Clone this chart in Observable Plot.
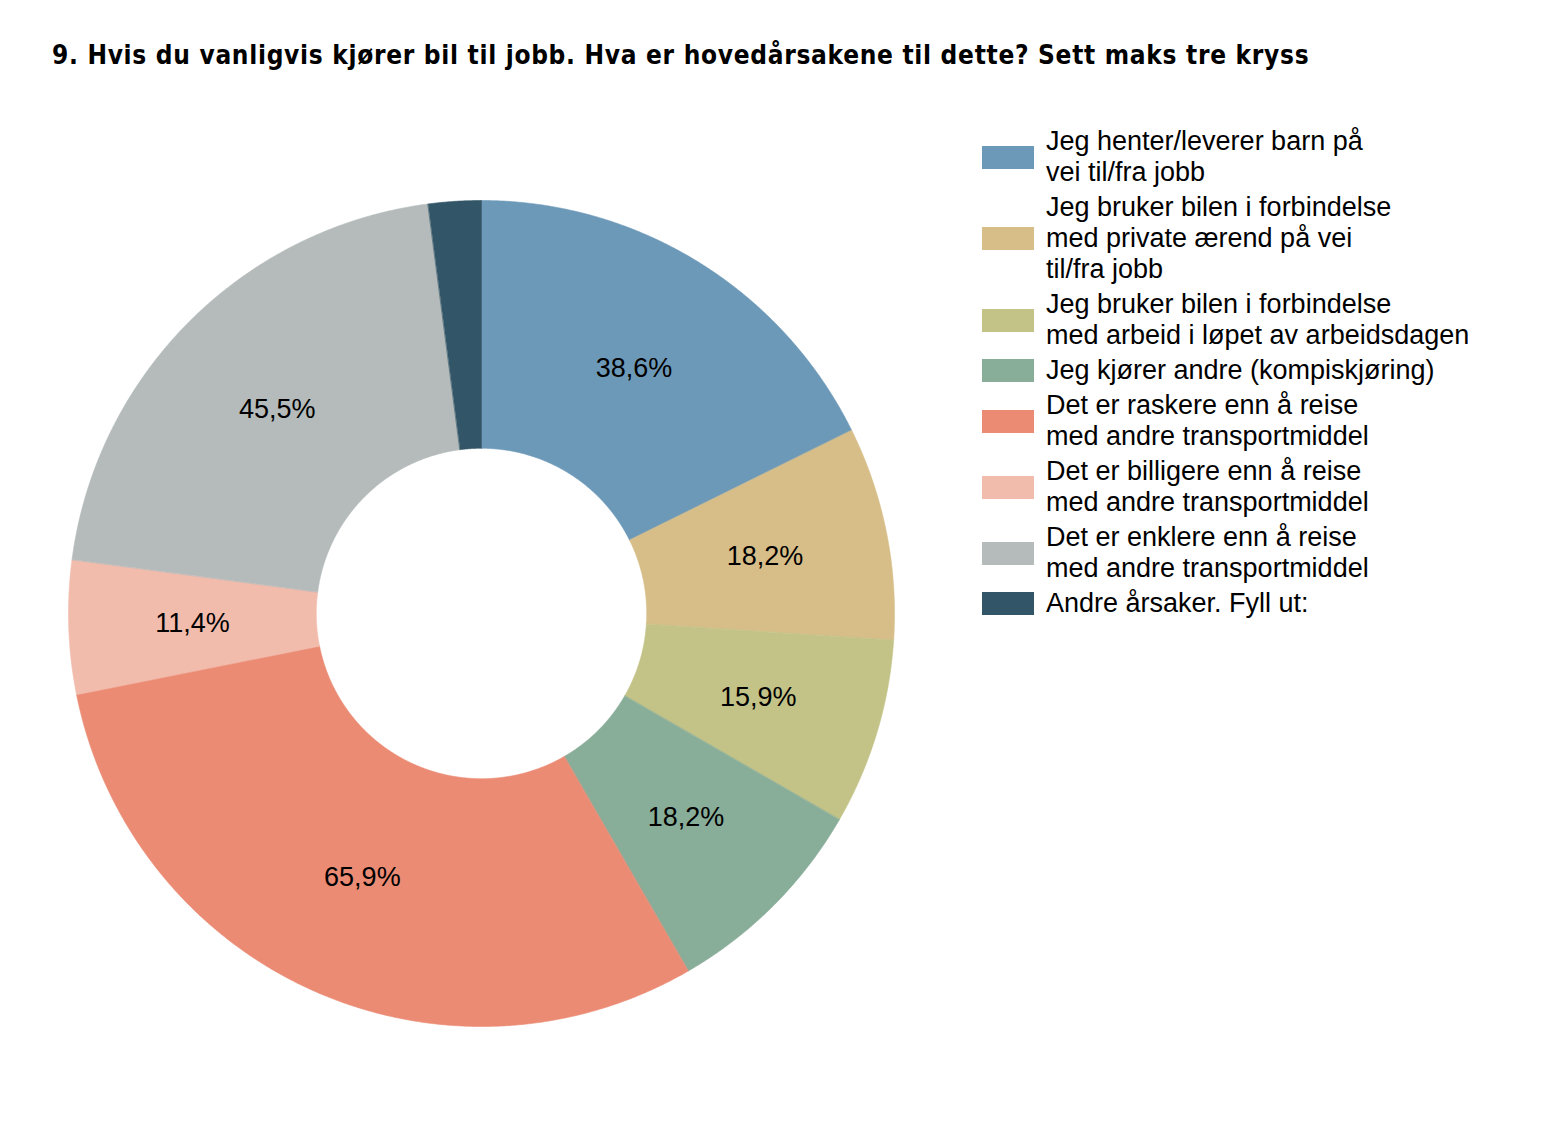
<!DOCTYPE html>
<html>
<head>
<meta charset="utf-8">
<script src="https://cdn.jsdelivr.net/npm/d3@7"></script>
<script src="https://cdn.jsdelivr.net/npm/@observablehq/plot@0.6"></script>
<style>
  html, body { margin: 0; padding: 0; background: #fff; }
  #wrap { position: relative; width: 1562px; height: 1148px; overflow: hidden; }
  #title { position: absolute; left: 52px; top: 40px; font-family: "DejaVu Sans Condensed", "DejaVu Sans", sans-serif; font-weight: bold; font-size: 26px; line-height: 30px; color: #000; white-space: nowrap; letter-spacing: 0.7px; }
  #chart { position: absolute; left: 0; top: 132px; }
  #legend { position: absolute; left: 982px; top: 126px; font-family: Arial, "Liberation Sans", sans-serif; font-size: 27px; line-height: 31px; color: #000; }
  .item { display: flex; align-items: center; margin-bottom: 4px; }
  .sw { width: 52px; height: 23px; flex: none; margin-right: 12px; }
</style>
</head>
<body>
<div id="wrap">
  <div id="title">9. Hvis du vanligvis kjører bil til jobb. Hva er hovedårsakene til dette? Sett maks tre kryss</div>
  <div id="chart"></div>
  <div id="legend"></div>
</div>
<script>
const categories = [
  "Jeg henter/leverer barn på\nvei til/fra jobb",
  "Jeg bruker bilen i forbindelse\nmed private ærend på vei\ntil/fra jobb",
  "Jeg bruker bilen i forbindelse\nmed arbeid i løpet av arbeidsdagen",
  "Jeg kjører andre (kompiskjøring)",
  "Det er raskere enn å reise\nmed andre transportmiddel",
  "Det er billigere enn å reise\nmed andre transportmiddel",
  "Det er enklere enn å reise\nmed andre transportmiddel",
  "Andre årsaker. Fyll ut:"
];
const values = [38.6, 18.2, 15.9, 18.2, 65.9, 11.4, 45.5, 4.5];
const colors = ["#6d99b8", "#d7be88", "#c3c388", "#88ad99", "#eb8b74", "#f2bcad", "#b4bbba", "#325567"];

const data = categories.map((c, i) => ({key: c, value: values[i], color: colors[i]}));
const arcs = d3.pie().sort(null).value(d => d.value)(data);

const inner = 0.4;
const points = [];
arcs.forEach(a => {
  const n = Math.max(8, Math.ceil((a.endAngle - a.startAngle) / 0.005));
  for (let k = 0; k <= n; k++) {
    const t = a.startAngle + (a.endAngle - a.startAngle) * k / n;
    points.push({key: a.data.key, x: Math.sin(t), y: Math.cos(t)});
  }
  for (let k = n; k >= 0; k--) {
    const t = a.startAngle + (a.endAngle - a.startAngle) * k / n;
    points.push({key: a.data.key, x: inner * Math.sin(t), y: inner * Math.cos(t)});
  }
});
const labelData = arcs.filter(a => a.data.value >= 5).map(a => {
  const m = (a.startAngle + a.endAngle) / 2, r = (1 + inner) / 2;
  return {x: r * Math.sin(m), y: r * Math.cos(m), text: a.data.value.toFixed(1).replace(".", ",") + "%"};
});

const half = 481 / 413;
const chart = Plot.plot({
  width: 962, height: 962,
  margin: 0,
  x: {domain: [-half, half], axis: null},
  y: {domain: [-half, half], axis: null},
  color: {domain: categories, range: colors},
  style: {background: "transparent"},
  marks: [
    Plot.line(points, {x: "x", y: "y", z: "key", fill: "key", stroke: "key", strokeWidth: 0.6, curve: "linear-closed"}),
    Plot.text(labelData, {x: "x", y: "y", text: "text", fontSize: 27, fontFamily: "Arial, 'Liberation Sans', sans-serif", fill: "#000"})
  ]
});
document.getElementById("chart").appendChild(chart);

const legend = document.getElementById("legend");
data.forEach(d => {
  const item = document.createElement("div");
  item.className = "item";
  const sw = document.createElement("div");
  sw.className = "sw";
  sw.style.background = d.color;
  const tx = document.createElement("div");
  tx.innerHTML = d.key.split("\n").join("<br>");
  item.appendChild(sw);
  item.appendChild(tx);
  legend.appendChild(item);
});
</script>
</body>
</html>
